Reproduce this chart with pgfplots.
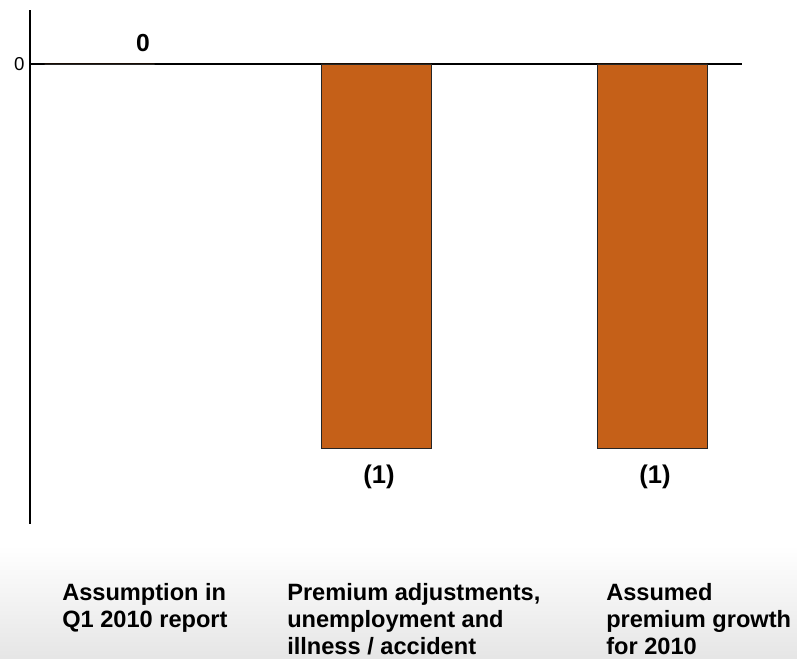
\documentclass[border=0pt]{standalone}
\usepackage{fontspec}
\setmainfont{Liberation Sans}
\usepackage{pgfplots}
\pgfplotsset{compat=1.18}
\definecolor{barcol}{RGB}{197,96,24}
\pgfdeclareverticalshading{bgfade}{100bp}{color(0bp)=(black!11); color(25bp)=(black!10); color(62bp)=(white); color(100bp)=(white)}
\begin{document}
\begin{tikzpicture}[x=1pt,y=1pt]
\path[use as bounding box] (0,0) rectangle (597.75,494.25);
\shade[shading=bgfade] (0,0) rectangle (597.75,115);
\begin{axis}[
  at={(22.5pt,101.25pt)}, anchor=south west,
  scale only axis, width=534pt, height=385.5pt,
  xmin=-0.2514, xmax=2.3237,
  ymin=-1.1964, ymax=0.1404,
  axis x line=middle, axis y line=left,
  axis line style={-, line width=1.3pt, black},
  xtick=\empty, ytick={0},
  major tick length=0pt,
  /pgf/number format/assume math mode=true,
  yticklabel style={font=\fontsize{14}{14}\selectfont, inner sep=0pt, xshift=-4pt},
  clip=false,
]
\addplot[ybar, bar width=0.3978, fill=barcol, draw=black!85, line width=0.7pt]
  coordinates {(0,0) (1,-1) (2,-1)};
\end{axis}
\node[anchor=base, inner sep=0pt, font=\bfseries\fontsize{18.5}{18.5}\selectfont] at (107.25,455.25) {0};
\node[anchor=base, inner sep=0pt, font=\bfseries\fontsize{19.2}{19.2}\selectfont] at (284.25,131.5) {(1)};
\node[anchor=base, inner sep=0pt, font=\bfseries\fontsize{19.2}{19.2}\selectfont] at (491.25,131.5) {(1)};
\begin{scope}[every node/.style={anchor=base west, inner sep=0pt, font=\bfseries\fontsize{17.7}{17.7}\selectfont}]
\node at (46.5,43.7) {Assumption in};
\node at (46.5,23.5) {Q1 2010 report};
\node at (215.25,43.7) {Premium adjustments,};
\node at (215.25,23.5) {unemployment and};
\node at (215.25,3.3) {illness / accident};
\node at (454.5,43.7) {Assumed};
\node at (454.5,23.5) {premium growth};
\node at (454.5,3.3) {for 2010};
\end{scope}
\end{tikzpicture}
\end{document}
